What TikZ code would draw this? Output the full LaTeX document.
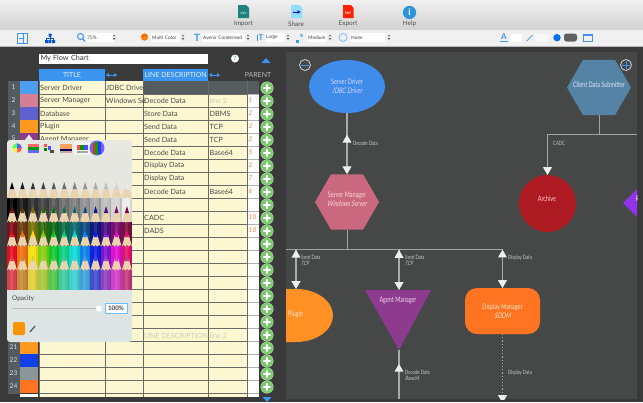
\documentclass[tikz,border=0pt]{standalone}
\usepackage{fontspec}
\setmainfont{Lato}
\newfontfamily\avenir[FakeStretch=0.72,ItalicFont={Lato},ItalicFeatures={FakeSlant=0.22,FakeStretch=0.72}]{Lato}
\usetikzlibrary{calc,arrows.meta,shapes.geometric}
\definecolor{canvasgray}{HTML}{464848}
\definecolor{uidark}{HTML}{3A3A3A}
\definecolor{uiblue}{HTML}{3B94F0}
\definecolor{linegray}{HTML}{ABABAB}
\definecolor{tipwhite}{HTML}{EEEEEE}
\definecolor{cellcream}{HTML}{FDF8D2}
\definecolor{gridgray}{HTML}{6A6A66}
\definecolor{rowgray}{HTML}{555C60}
\definecolor{parentorange}{HTML}{F08040}
\definecolor{fainttext}{HTML}{CFCBB0}
\definecolor{celltext}{HTML}{4A4A44}
\definecolor{btngreen}{HTML}{7CC66E}
\definecolor{driverblue}{HTML}{3F8CEB}
\definecolor{managerpink}{HTML}{C9687E}
\definecolor{clientblue}{HTML}{5583A6}
\definecolor{archivered}{HTML}{AD1A22}
\definecolor{pluginorange}{HTML}{FF9124}
\definecolor{agentpurple}{HTML}{8E3A8E}
\definecolor{displayorange}{HTML}{FF7420}
\definecolor{receivepurple}{HTML}{9233EA}
\definecolor{poptop}{HTML}{E7E8DF}
\definecolor{popbottom}{HTML}{DCE4E4}
\definecolor{pencilwood}{HTML}{EBD3AE}
\tikzset{
  shapelabel/.style={font=\avenir\fontsize{7.6}{8.8}\selectfont, align=center, inner sep=0pt},
  linknote/.style={font=\avenir\fontsize{5.9}{6.4}\selectfont, text=gray!45, anchor=north west, align=left, inner sep=0pt},
  flowshape/.style={inner sep=0pt, outer sep=0pt},
  link/.style={draw=linegray, line width=1.2pt, -{Triangle[length=8pt,width=9pt,color=tipwhite]}},
  bus/.style={draw=linegray!110, line width=1pt},
  uptip/.style={regular polygon, regular polygon sides=3, minimum size=10.4pt, inner sep=0pt, fill=tipwhite},
  celltxt/.style={font=\fontsize{7.2}{8}\selectfont, text=celltext, anchor=west, inner sep=0pt},
  rownum/.style={font=\fontsize{6.6}{7}\selectfont, text=gray!25, inner sep=0pt},
  toplabel/.style={font=\fontsize{6.4}{7}\selectfont, text=black!70, inner sep=0pt},
  barfield/.style={fill=white, rounded corners=1pt, minimum height=9pt, inner sep=1pt, anchor=west, font=\fontsize{4.8}{5}\selectfont, text=black!75},
  hdrcell/.style={fill=uiblue, minimum height=12.5pt, inner sep=0pt, font=\fontsize{7}{8}\selectfont, text=white!85!uiblue},
  addbtn/.style={circle, fill=btngreen, draw=btngreen!60!white, line width=.5pt, minimum size=12.5pt, inner sep=0pt},
  roundbtn/.style={circle, draw=gray!35, line width=.8pt, minimum size=11pt, inner sep=0pt},
}
\newcommand{\stepper}[1]{\fill[gray!80!black] (#1-1.3,36.4)--(#1+1.3,36.4)--(#1,34.6)--cycle (#1-1.3,38.2)--(#1+1.3,38.2)--(#1,40)--cycle;}
\newcommand{\pencilrow}[3]{\foreach \i/\c in {#3}{\definecolor{pc}{HTML}{\c}
  \pgfmathsetmacro\px{12+10.45*\i}
  \fill[pc] (\px-5.3,#1+16) rectangle (\px+5.3,#1+16+#2);
  \fill[pc!90!black] (\px+3.5,#1+16) rectangle (\px+5.3,#1+16+#2);
  \fill[pc!90!white] (\px-2,#1+16) rectangle (\px+1,#1+16+#2);
  \fill[pencilwood] (\px-1.8,#1+5)--(\px+1.8,#1+5)--(\px+5,#1+16)--(\px+3.4,#1+15)--(\px+1.7,#1+16.5)--(\px,#1+15)--(\px-1.7,#1+16.5)--(\px-3.4,#1+15)--(\px-5,#1+16)--cycle;
  \fill[pc] (\px,#1)--(\px+2.1,#1+7)--(\px-2.1,#1+7)--cycle;}}
\begin{document}
\begin{tikzpicture}[x=1pt,y=-1pt]
\useasboundingbox (0,0) rectangle (643,402);
\fill[uidark] (0,0) rectangle (643,402);
\shade[top color=gray!12, bottom color=gray!35] (0,0) rectangle (643,30);
\fill[gray!12] (0,30) rectangle (643,46);
\draw[gray!55, line width=.6pt] (0,46.3)--(643,46.3);
\fill[canvasgray] (286,52) rectangle (637,399);
% top buttons
\fill[teal!75!gray] (238,5)--(246,5)--(249,8)--(249,18)--(238,18)--cycle;
\fill[blue!30!cyan!45!white] (291,5)--(299,5)--(302,8)--(302,18)--(291,18)--cycle;
\draw[-{Latex[length=3pt,width=4pt]}, blue!70!black, line width=.9pt] (292.5,12)--(300.5,12);
\fill[red!75!orange] (343,5)--(351,5)--(353.5,8)--(353.5,18)--(343,18)--cycle;
\node[font=\bfseries\fontsize{3.2}{4}\selectfont, text=white, inner sep=0pt] (pdfmark) at (348,13) {PDF};
\node[font=\bfseries\fontsize{3}{4}\selectfont, text=white!85!teal, inner sep=0pt] (csvmark) at (243.5,13) {CSV};
\fill[cyan!70!blue!85!white] (409.5,12.5) circle (6.7);
\node[font=\bfseries\fontsize{9}{9}\selectfont, text=white, inner sep=0pt] (helpmark) at (409.5,12.5) {i};
\node[toplabel] (importlbl) at (243.5,24) {Import};
\node[toplabel] (sharelbl) at (296,24) {Share};
\node[toplabel] (exportlbl) at (348,24) {Export};
\node[toplabel] (helplbl) at (409.5,24) {Help};
% second bar
\draw[uiblue, line width=.9pt] (17.5,33.5) rectangle (27,43); \draw[uiblue, line width=.8pt] (23.5,33.5)--(23.5,43); \draw[uiblue, line width=.7pt] (19,38.3)--(23,38.3);
\fill[blue!60!cyan!80!black] (48.5,33.5) rectangle (51.5,36.5) (45,40) rectangle (48,43) (48.7,40) rectangle (51.3,43) (52,40) rectangle (55,43); \draw[blue!60!cyan!80!black, line width=.5pt] (46.5,40)--(46.5,38)--(53.5,38)--(53.5,40) (50,36)--(50,40);
\draw[uiblue, line width=1pt] (80.5,36.5) circle (3); \draw[uiblue, line width=1.2pt] (82.6,38.8)--(85,41.5);
\fill[orange] (144.5,37) circle (3.7); \fill[red!70!orange] (143.2,36) circle (.8); \fill[blue!70] (145.8,35.8) circle (.7);
\node[font=\bfseries\fontsize{10}{10}\selectfont, text=uiblue, inner sep=0pt] (fonticon) at (197,37.5) {T};
\node[font=\bfseries\fontsize{8}{8}\selectfont, text=uiblue, inner sep=0pt] (sizeicon) at (261,38) {T};
\draw[uiblue, line width=.6pt] (257,41)--(257,34.5);
\fill[uiblue] (296,40) rectangle (299,43); \fill[uiblue!60] (300,34) rectangle (302.5,36.5);
\draw[uiblue!60, line width=.9pt] (343,37.5) circle (4);
\foreach \x/\w/\s/\t in {86/28/114/75\%,151/29/183/Multi Color,202/43/248/Avenir Condensed,265/20/288/Large,307/20/330/Medium,350/35/389/None}{
  \node[barfield, minimum width=\w pt, text width={\w pt-2pt}] (field\x) at (\x,37.5) {\t};
  \stepper{\s}}
\node[font=\bfseries\fontsize{8}{8}\selectfont, text=uiblue, inner sep=0pt] (aicon) at (504,36.5) {A};
\draw[uiblue, line width=.9pt] (500,41.5)--(508,41.5);
\fill[white] (511,33.5) rectangle (522,41.5);
\draw[uiblue, line width=.7pt] (526.5,41)--(532.5,35);
\fill[gray!6] (535,33.5) rectangle (548,41.5);
\fill[blue!50!cyan!90!black] (557,37.7) circle (3.7);
\fill[gray!75!black, rounded corners=2.5pt] (564,33.5) rectangle (577,41.5);
\draw[uiblue, line width=.8pt] (583.5,34) rectangle (592.5,41.5); \fill[uiblue] (583.5,34) rectangle (592.5,36);
% table
\node[fill=white, minimum width=169pt, minimum height=10pt, inner sep=1pt, font=\fontsize{7.2}{8}\selectfont, text=black!80, text width=166pt] (charttitle) at (123.5,58.5) {My Flow Chart};
\node[circle, fill=white, minimum size=8pt, inner sep=0pt, font=\bfseries\fontsize{6}{6}\selectfont, text=uiblue] (helpdot) at (235,58.5) {?};
\fill[uiblue] (266,58)--(261.5,63)--(270.5,63)--cycle;
\node[hdrcell, minimum width=66pt] (titlehd) at (72,75) {TITLE};
\node[hdrcell, minimum width=65.5pt] (deschd) at (175.7,75) {LINE DESCRIPTION};
\node[font=\fontsize{7}{8}\selectfont, text=gray!55, inner sep=0pt] (parenthd) at (258,75) {PARENT};
\draw[{Latex[length=3.5pt,width=4.5pt]}-{Latex[length=3.5pt,width=4.5pt]}, uiblue, line width=.8pt] (105.5,75)--(117.5,75);
\draw[{Latex[length=3.5pt,width=4.5pt]}-{Latex[length=3.5pt,width=4.5pt]}, uiblue, line width=.8pt] (208.5,75)--(220.5,75);
\fill[cellcream] (39,81) rectangle (247,397);
\fill[white] (247,94) rectangle (259,397);
\fill[rowgray] (143,81) rectangle (259,94);
\fill[rowgray] (8,81) rectangle (20,393);
\foreach \n/\c in {1/4F9DF0,2/D47F94,3/6060D0,4/FF9A1F,5/8E3A8E,21/FF9A1F,22/1040E8,23/8A959C,24/FF7420}{
  \definecolor{swatch}{HTML}{\c}
  \fill[swatch] (20,{81+13*(\n-1)}) rectangle (38,{93.5+13*(\n-1)});}
\fill[white] (20,394) rectangle (38,397);
\foreach \n in {1,...,24}{
  \pgfmathsetmacro\yr{87.5+13*(\n-1)}
  \draw[gridgray, line width=.9pt] (39,\yr+6.5)--(247,\yr+6.5);
  \draw[gray!60, line width=.9pt] (247,\yr+6.5)--(259,\yr+6.5);
  \draw[gray!70!black, line width=.5pt] (8,\yr+6.5)--(20,\yr+6.5);}
\foreach \n in {1,2,3,4,21,22,23,24}{\node[rownum] (num\n) at (13.5,{87.5+13*(\n-1)}) {\n};}
\node[rownum] (num5) at (13.5,138) {5};
\foreach \x in {39,105,143,208,247}{\draw[gridgray, line width=.9pt] (\x,81)--(\x,397);}
\foreach \n/\a in {1/Server Driver,2/Server Manager,3/Database,4/Plugin,5/Agent Manager}{
  \node[celltxt] (title\n) at (40,{87.5+13*(\n-1)}) {\a};}
\node[celltxt] (sub1) at (106,87.5) {JDBC Driver};
\node[celltxt] (sub2) at (106,100.5) {Windows Se};
\foreach \n/\d/\l/\p in {2/Decode Data//1,3/Store Data/DBMS/2,4/Send Data/TCP/2,5/Send Data/TCP/2,6/Decode Data/Base64/5,7/Display Data//2,8/Display Data//7,9/Decode Data/Base64/6,11/CADC//10,12/DADS//10}{
  \pgfmathsetmacro\yr{87.5+13*(\n-1)}
  \node[celltxt] (desc\n) at (144,\yr) {\d};
  \node[celltxt] (line\n) at (209.5,\yr) {\l};
  \node[anchor=west, inner sep=0pt, text=parentorange, font=\itshape\fontsize{6.6}{7}\selectfont] (parent\n) at (248.5,\yr) {\p};}
\node[celltxt, text=fainttext] (faintline) at (209.5,100.5) {line 2};
\node[celltxt, text=fainttext] (faintdesc) at (144,335.5) {LINE DESCRIPTION};
\node[celltxt, text=fainttext] (faintline2) at (209.5,335.5) {line 2};
\foreach \n in {1,...,24}{
  \node[addbtn] (add\n) at (267,{88+13*(\n-1)}) {};
  \fill[white] (add\n.center) ++(-3.6,-.9) rectangle ++(7.2,1.8) (add\n.center) ++(-.9,-3.6) rectangle ++(1.8,7.2);}
\fill[uiblue] (262.5,397)--(271.5,397)--(267,402)--cycle;
% popover
\shade[top color=poptop, bottom color=popbottom, rounded corners=3pt] (7,140) rectangle (132,342);
\fill[poptop] (24.5,140.5)--(29,134.5)--(33.5,140.5)--cycle;
\fill[white, opacity=.5] (74,141) rectangle (90,155);
\fill[blue!60!white] (97,148) circle (7.5);
\fill[red!70!orange] (93,142.5) rectangle (95,153.5); \fill[green!65!black] (95,141.5) rectangle (98,154.5); \fill[blue!80!white] (98,142) rectangle (101,154);
\foreach \x/\c in {0/red,90/yellow,180/green,270/blue}{\fill[\c!65!white] (17,148) -- ++(\x:4.8) arc (\x:\x+90:4.8) -- cycle;}
\fill[red!60] (27.5,144) rectangle (38.5,146.5); \fill[green!60!black] (27.5,147) rectangle (38.5,149.5); \fill[blue!60] (27.5,150) rectangle (38.5,152.5);
\fill[red!70] (44,143.5) rectangle (47,147); \fill[blue!70] (47.5,146) rectangle (51,149.5); \fill[black!70] (50,150) rectangle (54,153); \fill[green!50!black] (44,148) rectangle (47,151);
\fill[orange!50!pink] (60,144) rectangle (71.5,149); \fill[black!70!blue] (60,149) rectangle (71.5,151); \fill[pink!60!gray] (60,151) rectangle (71.5,153);
\fill[red!70] (76.5,145) rectangle (80,150); \fill[green!60!black] (80,145) rectangle (83.5,150); \fill[blue!70] (83.5,145) rectangle (87.5,150); \fill[gray!70] (76.5,151) rectangle (87.5,152.5);
\pencilrow{182}{24}{0/000000,1/1A1A1A,2/333333,3/444444,4/595959,5/6E6E6E,6/808080,7/929292,8/A8A8A8,9/BEBEBE,10/D4D4D4,11/ECECEC}
\pencilrow{206}{24}{0/7A0F1A,1/6B3A10,2/77700F,3/2F6B12,4/0D6B1A,5/0F6B45,6/0D6B6F,7/0D4A80,8/0D1A80,9/4A1080,10/7A0F70,11/7A0F40}
\pencilrow{230}{24}{0/E01020,1/F07010,2/F8E010,3/80D010,4/10C830,5/10D080,6/10D8D8,7/1080E8,8/1020E0,9/8010D0,10/E010D0,11/E01070}
\pencilrow{254}{20}{0/D84050,1/C88A3A,2/E0D040,3/A8C840,4/50C850,5/40C8A0,6/40D0D0,7/40A0D8,8/4050D0,9/9040C0,10/D040C8,11/C03A80}
\node[font=\fontsize{6.4}{7}\selectfont, text=black!75, anchor=west, inner sep=0pt] (opacitylbl) at (12,299) {Opacity};
\draw[gray!55, line width=1.1pt] (12,308.5)--(99,308.5);
\fill[white] (99,308.5) circle (3);
\node[draw=blue!40!cyan!60!white, line width=1pt, fill=white, minimum width=22pt, minimum height=10pt, inner sep=0pt, font=\bfseries\fontsize{6.2}{7}\selectfont, text=black!75] (opacityfld) at (116,308) {100\%};
\draw[gray!25, line width=.5pt] (7,317.5)--(132,317.5);
\fill[orange!85!yellow, rounded corners=1.5pt] (13,322) rectangle (25,335);
\draw[gray!70!black, line width=1.3pt] (30,332)--(35,326);
\foreach \i in {0,...,9}{\foreach \yy in {325,332}{\draw[gray!20, line width=.4pt, rounded corners=1pt] ({41+8.8*\i},\yy-3) rectangle ({47.5+8.8*\i},\yy+3);}}
% flow chart
\begin{scope}
\clip (286,52) rectangle (637,399);
\node[flowshape, ellipse, fill=driverblue, minimum width=76pt, minimum height=53pt] (driver) at (347,86.5) {};
\node[flowshape, regular polygon, regular polygon sides=6, fill=managerpink, minimum size=64pt] (manager) at (347,202) {};
\node[flowshape, regular polygon, regular polygon sides=6, fill=clientblue, minimum size=64pt] (client) at (599,87.5) {};
\node[flowshape, circle, fill=archivered, minimum size=57pt] (archive) at (547.5,203.5) {};
\fill[pluginorange] (280,289) -- (296,289) arc (-90:90:37 and 26.5) -- (280,342) -- cycle;
\coordinate (plugintop) at (296,289);
\fill[agentpurple] (365,290)--(431,290)--(399,350)--cycle;
\coordinate (agenttop) at (399,290); \coordinate (agenttip) at (399,350);
\node[flowshape, fill=displayorange, rounded corners=12pt, minimum width=75pt, minimum height=46pt] (display) at (502.5,311) {};
\fill[receivepurple] (623,203)--(653,173)--(653,233)--cycle;
\node[shapelabel, text=white!85!blue] (driverlbl) at (347,86.5) {Server Driver\\\textit{JDBC Driver}};
\node[shapelabel, text=white!85!red] (managerlbl) at (347,199.5) {Server Manager\\\textit{Windows Server}};
\node[shapelabel, text=white!90!blue] (clientlbl) at (599,84.5) {Client Data Submitter};
\node[shapelabel, text=white!80!red] (archivelbl) at (547,199) {Archive};
\node[shapelabel, text=white!80!orange, anchor=west] (pluginlbl) at (288,314) {Plugin};
\node[shapelabel, text=white!85!violet] (agentlbl) at (398,300.5) {Agent Manager};
\node[shapelabel, text=white!80!orange] (displaylbl) at (502.5,311) {Display Manager\\\textit{SDDM}};
\node[shapelabel, text=white!85!violet, anchor=west] (receivelbl) at (635.5,199) {R};
\coordinate (busjoin) at (347,249); \coordinate (busleft) at (286,249); \coordinate (busA) at (296,249); \coordinate (busB) at (399,249); \coordinate (busC) at (502.5,249);
\coordinate (topjoin) at (599,134); \coordinate (topleft) at (547.5,134); \coordinate (topright) at (637,134);
\coordinate (agentend) at (399,399); \coordinate (displayend) at (502.5,403);
\draw[link] (driver.south) -- node[uptip,pos=.44]{} (manager.north);
\draw[bus] (manager.south)--(busjoin);
\draw[bus] (busleft)--(busC);
\draw[link] (busA) -- node[uptip,pos=.15]{} (plugintop);
\draw[link] (busB) -- node[uptip,pos=.15]{} (agenttop);
\draw[link] (busC) -- node[uptip,pos=.15]{} (display.north);
\draw[draw=linegray, line width=1.2pt] (agenttip) -- node[uptip,pos=.39]{} (agentend);
\draw[link, dotted] (display.south)--(displayend);
\draw[bus] (client.south)--(topjoin);
\draw[bus] (topleft)--(topright);
\draw[link] (topleft)--(archive.north);
\node[linknote] (note1) at (353,141) {Decode Data};
\node[linknote] (note2) at (301,255) {Send Data\\\textit{TCP}};
\node[linknote] (note3) at (405,255) {Send Data\\\textit{TCP}};
\node[linknote] (note4) at (508,255) {Display Data};
\node[linknote] (note5) at (405,370) {Decode Data\\\textit{Base64}};
\node[linknote] (note6) at (508,370) {Display Data};
\node[linknote] (note7) at (553,141) {CADC};
\end{scope}
\node[roundbtn] (collapsebtn) at (305,65) {}; \draw[uiblue, line width=1pt] (301,65)--(309,65);
\node[roundbtn] (expandbtn) at (626,65) {}; \draw[uiblue, line width=1pt] (622,65)--(630,65) (626,61)--(626,69);
\end{tikzpicture}
\end{document}
